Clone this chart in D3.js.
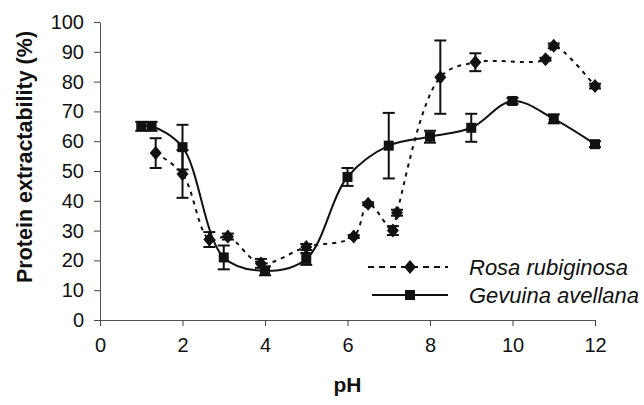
<!DOCTYPE html>
<html>
<head>
<meta charset="utf-8">
<script src="https://cdn.jsdelivr.net/npm/d3@7"></script>
<style>
  html, body { margin: 0; padding: 0; background: #fff; }
  svg { display: block; }
  text { font-family: "Liberation Sans", Arial, sans-serif; fill: #111; }
</style>
</head>
<body>
<svg id="chart" width="644" height="405"></svg>
<script>
// ---- data ----
const gevuinaPH  = [1.0, 1.25, 2.0, 3.0, 4.0, 5.0, 6.0, 7.0, 8.0, 9.0, 10.0, 11.0, 12.0];
const gevuinaVal = [65, 65, 58, 21, 16.5, 20.5, 48, 58.5, 61.5, 64.5, 73.5, 67.5, 59];
const gevuinaErr = [1.5, 1.5, 7.5, 4, 1.5, 2, 3, 11, 2, 4.7, 1, 1.5, 1];

const rosaPH  = [1.35, 2.0, 2.65, 3.1, 3.9, 5.0, 6.15, 6.5, 7.1, 7.2, 8.25, 9.1, 10.8, 11.0, 12.0];
const rosaVal = [56, 49, 27, 28, 19, 24.5, 28, 39, 30, 36, 81.5, 86.5, 87.5, 92, 78.5];
const rosaErr = [5, 8, 2.5, 1, 1.5, 1, 0.5, 0.5, 1.5, 1, 12.3, 3, 0.5, 0.8, 0.8];

const xTicks = [0, 2, 4, 6, 8, 10, 12];
const yTicks = [0, 10, 20, 30, 40, 50, 60, 70, 80, 90, 100];
const seriesNames = ["Rosa rubiginosa", "Gevuina avellana"];
const xTitle = "pH";
const yTitle = "Protein extractability (%)";

// ---- layout ----
const svg = d3.select("#chart");
const x = d3.scaleLinear().domain([0, 12]).range([100, 595]);
const y = d3.scaleLinear().domain([0, 100]).range([320, 22]);

// axes
const xAxis = d3.axisBottom(x).tickValues(xTicks).tickSize(6).tickSizeOuter(0).tickPadding(12);
const yAxis = d3.axisLeft(y).tickValues(yTicks).tickSize(6).tickSizeOuter(0).tickPadding(10);

const gx = svg.append("g").attr("transform", `translate(0,${y(0)})`).call(xAxis);
const gy = svg.append("g").attr("transform", `translate(${x(0)},0)`).call(yAxis);
[gx, gy].forEach(g => {
  g.select(".domain").attr("stroke", "#555").attr("stroke-width", 1);
  g.selectAll(".tick line").attr("stroke", "#444").attr("stroke-width", 1);
  g.selectAll(".tick text").attr("font-size", 20).attr("font-family", "Liberation Sans, Arial, sans-serif").attr("fill", "#111");
});

// titles
svg.append("text").attr("x", (x(0) + x(12)) / 2).attr("y", 392)
  .attr("text-anchor", "middle").attr("font-size", 21).attr("font-weight", "bold").text(xTitle);
svg.append("text").attr("transform", `translate(32,${(y(0) + y(100)) / 2 - 14}) rotate(-90)`)
  .attr("text-anchor", "middle").attr("font-size", 21.5).attr("font-weight", "bold").text(yTitle);

const rosa = rosaPH.map((p, i) => ({ p, v: rosaVal[i], e: rosaErr[i] }));
const gev = gevuinaPH.map((p, i) => ({ p, v: gevuinaVal[i], e: gevuinaErr[i] }));

const line = d3.line().x(d => x(d.p)).y(d => y(d.v)).curve(d3.curveCatmullRom.alpha(0.5));

// lines
svg.append("path").datum(rosa).attr("d", line)
  .attr("fill", "none").attr("stroke", "#111").attr("stroke-width", 2).attr("stroke-dasharray", "4,5");
svg.append("path").datum(gev).attr("d", line)
  .attr("fill", "none").attr("stroke", "#111").attr("stroke-width", 2);

// error bars
function errorBars(data) {
  const g = svg.append("g").attr("stroke", "#111").attr("stroke-width", 2);
  data.forEach(d => {
    const xc = x(d.p), y1 = y(d.v + d.e), y2 = y(d.v - d.e);
    g.append("line").attr("x1", xc).attr("x2", xc).attr("y1", y1).attr("y2", y2);
    g.append("line").attr("x1", xc - 6).attr("x2", xc + 6).attr("y1", y1).attr("y2", y1);
    g.append("line").attr("x1", xc - 6).attr("x2", xc + 6).attr("y1", y2).attr("y2", y2);
  });
}
errorBars(rosa);
errorBars(gev);

// markers
function diamond(g, cx, cy) {
  g.append("path").attr("d", `M${cx},${cy - 7}L${cx + 6},${cy}L${cx},${cy + 7}L${cx - 6},${cy}Z`).attr("fill", "#111");
}
function square(g, cx, cy) {
  g.append("rect").attr("x", cx - 5).attr("y", cy - 5).attr("width", 10).attr("height", 10).attr("fill", "#111");
}
const gm = svg.append("g");
rosa.forEach(d => diamond(gm, x(d.p), y(d.v)));
gev.forEach(d => square(gm, x(d.p), y(d.v)));

// legend
const lg = svg.append("g");
const legRows = [267, 295];
lg.append("line").attr("x1", 368).attr("x2", 448).attr("y1", legRows[0]).attr("y2", legRows[0])
  .attr("stroke", "#111").attr("stroke-width", 2).attr("stroke-dasharray", "6,5");
diamond(lg, 410, legRows[0]);
lg.append("line").attr("x1", 372).attr("x2", 448).attr("y1", legRows[1]).attr("y2", legRows[1])
  .attr("stroke", "#111").attr("stroke-width", 2);
square(lg, 410, legRows[1]);
seriesNames.forEach((n, i) => {
  lg.append("text").attr("x", 469).attr("y", legRows[i] + 7.5).attr("font-size", 22)
    .attr("font-style", "italic").text(n);
});
</script>
</body>
</html>
